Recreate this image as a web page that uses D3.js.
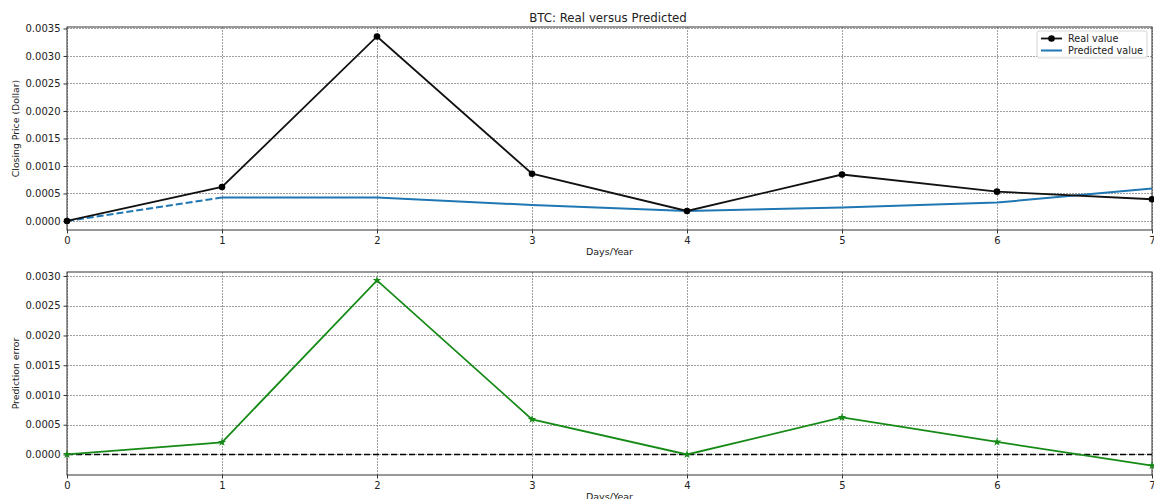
<!DOCTYPE html>
<html>
<head>
<meta charset="utf-8">
<script src="https://cdn.jsdelivr.net/npm/d3@7"></script>
<style>
  body { margin: 0; background: #fff; }
  svg text { font-family: "DejaVu Sans", sans-serif; fill: #222; }
</style>
</head>
<body>
<div id="chart"></div>
<script>
// ---- data ----
var days = [0, 1, 2, 3, 4, 5, 6, 7];
var realValue = [0.0000, 0.000618, 0.003355, 0.000860, 0.000182, 0.000845, 0.000533, 0.000395];
var predictedValue = [0.0000, 0.000427, 0.000427, 0.000290, 0.000182, 0.000245, 0.000335, 0.000590];
var predError = [0.0000, 0.000205, 0.002925, 0.000590, 0.0000, 0.000622, 0.000210, -0.000188];
var topTicks = [0, 0.0005, 0.001, 0.0015, 0.002, 0.0025, 0.003, 0.0035];
var bottomTicks = [0, 0.0005, 0.001, 0.0015, 0.002, 0.0025, 0.003];

var W = 1154, H = 499;
var svg = d3.select("#chart").append("svg")
    .attr("width", W).attr("height", H);

var x = d3.scaleLinear().domain([0, 7]).range([67, 1152]);

// two panels, each with its own y scale
var yTop = d3.scaleLinear().domain([-0.000164, 0.003527]).range([230, 27]);
var yBot = d3.scaleLinear().domain([-0.000345, 0.003067]).range([475, 272]);

var fmt = d3.format(".4f");

function drawPanel(y, ticks, yLabel) {
    var y0 = y.range()[0], y1 = y.range()[1];

    // grid
    var grid = svg.append("g");
    grid.selectAll(".gy").data(ticks).enter().append("line")
        .attr("x1", x.range()[0]).attr("x2", x.range()[1])
        .attr("y1", function(d) { return Math.round(y(d)) + 0.5; })
        .attr("y2", function(d) { return Math.round(y(d)) + 0.5; })
        .attr("stroke", "#777").attr("stroke-width", 0.7)
        .attr("stroke-dasharray", "2,1");
    grid.selectAll(".gx").data(days).enter().append("line")
        .attr("y1", y0).attr("y2", y1)
        .attr("x1", function(d) { return Math.round(x(d)) + 0.5; })
        .attr("x2", function(d) { return Math.round(x(d)) + 0.5; })
        .attr("stroke", "#777").attr("stroke-width", 0.7)
        .attr("stroke-dasharray", "2,1");

    // axes
    var ax = svg.append("g")
        .attr("transform", "translate(0," + y0 + ")")
        .call(d3.axisBottom(x).tickValues(days).tickFormat(d3.format("d")).tickSize(3.5).tickPadding(3));
    var ay = svg.append("g")
        .attr("transform", "translate(" + x.range()[0] + ",0)")
        .call(d3.axisLeft(y).tickValues(ticks).tickFormat(fmt).tickSize(3.5).tickPadding(3));
    [ax, ay].forEach(function(a) {
        a.select(".domain").remove();
        a.selectAll("text").attr("font-size", "10px").attr("fill", "#222");
        a.selectAll("line").attr("stroke", "#333");
    });

    // frame
    svg.append("rect")
        .attr("x", x.range()[0]).attr("y", y1)
        .attr("width", x.range()[1] - x.range()[0]).attr("height", y0 - y1)
        .attr("fill", "none").attr("stroke", "#333").attr("stroke-width", 1);

    // labels
    svg.append("text")
        .attr("x", (x.range()[0] + x.range()[1]) / 2).attr("y", y0 + 25)
        .attr("text-anchor", "middle").attr("font-size", "9.5px")
        .text("Days/Year");
    svg.append("text")
        .attr("transform", "translate(19," + (y0 + y1) / 2 + ") rotate(-90)")
        .attr("text-anchor", "middle").attr("font-size", "9.3px")
        .text(yLabel);
}

drawPanel(yTop, topTicks, "Closing Price (Dollar)");
drawPanel(yBot, bottomTicks, "Prediction error");

// title
svg.append("text")
    .attr("x", 608).attr("y", 22)
    .attr("text-anchor", "middle").attr("font-size", "11.8px")
    .text("BTC: Real versus Predicted");

// ---- top panel lines ----
var lineTop = d3.line()
    .x(function(d) { return x(d[0]); })
    .y(function(d) { return yTop(d[1]); });

var predPts = days.map(function(d, i) { return [d, predictedValue[i]]; });
// first segment is dashed, the rest solid
svg.append("path")
    .attr("d", lineTop(predPts.slice(0, 2)))
    .attr("fill", "none").attr("stroke", "#1f77b4")
    .attr("stroke-width", 2).attr("stroke-dasharray", "7,3");
svg.append("path")
    .attr("d", lineTop(predPts.slice(1)))
    .attr("fill", "none").attr("stroke", "#1f77b4").attr("stroke-width", 2);

var realPts = days.map(function(d, i) { return [d, realValue[i]]; });
svg.append("path")
    .attr("d", lineTop(realPts))
    .attr("fill", "none").attr("stroke", "#111").attr("stroke-width", 1.8);
svg.selectAll(".dot").data(realPts).enter().append("circle")
    .attr("cx", function(d) { return x(d[0]); })
    .attr("cy", function(d) { return yTop(d[1]); })
    .attr("r", 3.3).attr("fill", "#000");

// legend
var leg = svg.append("g").attr("transform", "translate(1037,31)");
leg.append("rect").attr("width", 110).attr("height", 27).attr("rx", 2)
    .attr("fill", "#fff").attr("fill-opacity", 0.85)
    .attr("stroke", "#ccc").attr("stroke-width", 0.8);
leg.append("line").attr("x1", 4).attr("x2", 25).attr("y1", 7.5).attr("y2", 7.5)
    .attr("stroke", "#111").attr("stroke-width", 1.8);
leg.append("circle").attr("cx", 14.5).attr("cy", 7.5).attr("r", 3.3).attr("fill", "#000");
leg.append("text").attr("x", 31).attr("y", 11).attr("font-size", "9.7px").text("Real value");
leg.append("line").attr("x1", 4).attr("x2", 25).attr("y1", 19.5).attr("y2", 19.5)
    .attr("stroke", "#1f77b4").attr("stroke-width", 2);
leg.append("text").attr("x", 31).attr("y", 23).attr("font-size", "9.7px").text("Predicted value");

// ---- bottom panel ----
svg.append("line")
    .attr("x1", x.range()[0]).attr("x2", x.range()[1])
    .attr("y1", yBot(0)).attr("y2", yBot(0))
    .attr("stroke", "#000").attr("stroke-width", 1.6).attr("stroke-dasharray", "6,3");

var errPts = days.map(function(d, i) { return [d, predError[i]]; });
var lineBot = d3.line()
    .x(function(d) { return x(d[0]); })
    .y(function(d) { return yBot(d[1]); });
svg.append("path")
    .attr("d", lineBot(errPts))
    .attr("fill", "none").attr("stroke", "#168a16").attr("stroke-width", 1.8);
svg.selectAll(".star").data(errPts).enter().append("path")
    .attr("transform", function(d) { return "translate(" + x(d[0]) + "," + yBot(d[1]) + ")"; })
    .attr("d", d3.symbol().type(d3.symbolStar).size(22))
    .attr("fill", "#168a16");
</script>
</body>
</html>
